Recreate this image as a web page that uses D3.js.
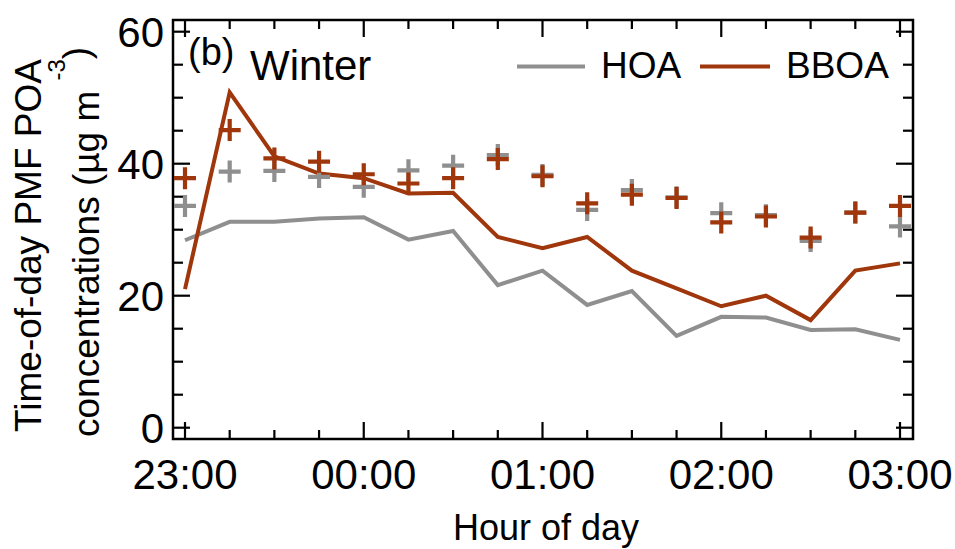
<!DOCTYPE html>
<html>
<head>
<meta charset="utf-8">
<script src="https://cdn.jsdelivr.net/npm/d3@7/dist/d3.min.js"></script>
<style>
  html, body { margin: 0; padding: 0; background: #fff; }
  svg { display: block; font-family: "Liberation Sans", Arial, sans-serif; }
</style>
</head>
<body>
<svg id="chart" width="955" height="549"></svg>
<script>
// ---- data ----
const hours = [0, 0.25, 0.5, 0.75, 1, 1.25, 1.5, 1.75, 2, 2.25, 2.5, 2.75, 3, 3.25, 3.5, 3.75, 4]; // hours after 23:00
const hoaLine  = [28.4, 31.2, 31.2, 31.7, 31.9, 28.5, 29.8, 21.6, 23.8, 18.6, 20.7, 13.9, 16.8, 16.7, 14.8, 14.9, 13.3];
const bboaLine = [21.0, 50.8, 41.1, 38.5, 37.8, 35.5, 35.6, 28.9, 27.2, 28.9, 23.8, 21.1, 18.4, 20.0, 16.3, 23.8, 24.9];
const hoaMark  = [33.6, 38.8, 38.9, 38.0, 36.5, 39.0, 39.7, 41.3, 38.3, 33.0, 36.0, 34.9, 32.5, 32.2, 28.3, 32.6, 30.5];
const bboaMark = [37.8, 45.1, 40.8, 40.3, 38.4, 37.0, 37.8, 40.7, 38.1, 34.0, 35.3, 34.8, 31.1, 32.0, 28.8, 32.6, 33.6];
const xTickValues = [0, 1, 2, 3, 4];
const xTickLabels = ["23:00", "00:00", "01:00", "02:00", "03:00"];
const yTickValues = [0, 20, 40, 60];
const seriesNames = ["HOA", "BBOA"];

// ---- styles ----
const GRAY = "#8f8f8f";
const BROWN = "#a0360b";
const FONT = '"Liberation Sans", Arial, sans-serif';

const svg = d3.select("#chart");
const frame = { left: 173, right: 913, top: 20, bottom: 439 };

const x = d3.scaleLinear().domain([0, 4]).range([185, 900]);
const y = d3.scaleLinear().domain([0, 60]).range([427.7, 31.7]);

// ---- ticks (inward, mirrored) ----
const xMinor = d3.range(0, 4.001, 0.25);
const yMinor = d3.range(0, 60.001, 5);
const tickG = svg.append("g").attr("stroke", "#000").attr("stroke-width", 2.2);
xMinor.forEach(v => {
  const major = Math.abs(v - Math.round(v)) < 1e-6;
  const len = major ? 17 : 9;
  tickG.append("line").attr("x1", x(v)).attr("x2", x(v)).attr("y1", frame.bottom).attr("y2", frame.bottom - len);
  tickG.append("line").attr("x1", x(v)).attr("x2", x(v)).attr("y1", frame.top).attr("y2", frame.top + len);
});
yMinor.forEach(v => {
  const major = v % 20 === 0;
  const len = major ? 17 : 10;
  tickG.append("line").attr("y1", y(v)).attr("y2", y(v)).attr("x1", frame.left).attr("x2", frame.left + len);
  tickG.append("line").attr("y1", y(v)).attr("y2", y(v)).attr("x1", frame.right).attr("x2", frame.right - len);
});

// frame
svg.append("rect")
  .attr("x", frame.left).attr("y", frame.top)
  .attr("width", frame.right - frame.left).attr("height", frame.bottom - frame.top)
  .attr("fill", "none").attr("stroke", "#000").attr("stroke-width", 2.5);

// tick labels
svg.append("g").selectAll("text").data(xTickValues).join("text")
  .attr("x", d => x(d)).attr("y", 489)
  .attr("text-anchor", "middle").attr("font-size", 42).attr("font-family", FONT)
  .text((d, i) => xTickLabels[i]);
svg.append("g").selectAll("text").data(yTickValues).join("text")
  .attr("x", 164).attr("y", d => y(d) + 15)
  .attr("text-anchor", "end").attr("font-size", 42).attr("font-family", FONT)
  .text(d => d);

// ---- lines ----
const line = d3.line().x((d, i) => x(hours[i])).y(d => y(d));
svg.append("path").datum(hoaLine).attr("d", line)
  .attr("fill", "none").attr("stroke", GRAY).attr("stroke-width", 4).attr("stroke-linejoin", "miter");
svg.append("path").datum(bboaLine).attr("d", line)
  .attr("fill", "none").attr("stroke", BROWN).attr("stroke-width", 4).attr("stroke-linejoin", "miter");

// ---- cross markers ----
const cross = "M-11,0H11M0,-11V11";
function marks(data, color) {
  svg.append("g").selectAll("path").data(data).join("path")
    .attr("transform", (d, i) => `translate(${x(hours[i])},${y(d)})`)
    .attr("d", cross).attr("fill", "none").attr("stroke", color).attr("stroke-width", 4.2);
}
marks(hoaMark, GRAY);
marks(bboaMark, BROWN);

// ---- panel label ----
svg.append("text").attr("x", 188).attr("y", 65).attr("font-size", 38).attr("font-family", FONT).text("(b)");
svg.append("text").attr("x", 250).attr("y", 80).attr("font-size", 42).attr("font-family", FONT).text("Winter");

// ---- legend ----
const legend = [
  { name: seriesNames[0], color: GRAY, x1: 517, x2: 585, tx: 601 },
  { name: seriesNames[1], color: BROWN, x1: 700, x2: 770, tx: 786 }
];
legend.forEach(l => {
  svg.append("line").attr("x1", l.x1).attr("x2", l.x2).attr("y1", 66.5).attr("y2", 66.5)
    .attr("stroke", l.color).attr("stroke-width", 4);
  svg.append("text").attr("x", l.tx).attr("y", 78).attr("font-size", 37).attr("font-family", FONT).text(l.name);
});

// ---- axis titles ----
svg.append("text").attr("x", 546).attr("y", 540).attr("text-anchor", "middle")
  .attr("font-size", 36).attr("font-family", FONT).text("Hour of day");

svg.append("text").attr("transform", "translate(41,245.5) rotate(-90)")
  .attr("text-anchor", "middle").attr("font-size", 37).attr("font-family", FONT)
  .text("Time-of-day PMF POA");

const t2 = svg.append("text").attr("transform", "translate(99,437) rotate(-90)")
  .attr("text-anchor", "start").attr("font-size", 37).attr("font-family", FONT);
t2.append("tspan").text("concentrations (µg m ");
t2.append("tspan").attr("font-size", 24).attr("dy", -34).text("-3");
t2.append("tspan").attr("dy", 24).text(")");
</script>
</body>
</html>
